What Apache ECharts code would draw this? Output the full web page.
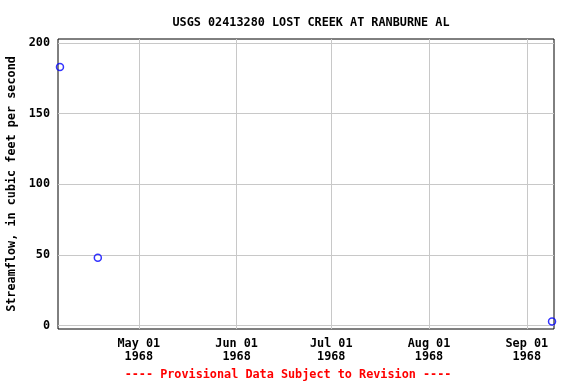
<!DOCTYPE html>
<html>
<head>
<meta charset="utf-8">
<script src="https://cdn.jsdelivr.net/npm/echarts@6/dist/echarts.min.js"></script>
<style>html,body{margin:0;padding:0;background:#fff}#c{width:576px;height:384px}</style>
</head>
<body>
<div id="c"></div>
<script>
var title = 'USGS 02413280 LOST CREEK AT RANBURNE AL';
var yAxisName = 'Streamflow, in cubic feet per second';
var footer = '---- Provisional Data Subject to Revision ----';
var dates = [[1968, 4, 6], [1968, 4, 18], [1968, 9, 9]];
var flows = [183, 48, 3];
var xTickDates = [[1968, 5, 1], [1968, 6, 1], [1968, 7, 1], [1968, 8, 1], [1968, 9, 1]];
var yTicks = [0, 50, 100, 150, 200];
var xRange = [[1968, 4, 5, 9], [1968, 9, 9, 15]];
var yRange = [-2.34, 202.8];

function ts(d) { return new Date(d[0], d[1] - 1, d[2], d[3] || 0).getTime(); }
var months = ['Jan','Feb','Mar','Apr','May','Jun','Jul','Aug','Sep','Oct','Nov','Dec'];
var font = '"DejaVu Sans Mono", monospace';
var xTicks = xTickDates.map(ts);

var chart = echarts.init(document.getElementById('c'));
chart.setOption({
  animation: false,
  title: {
    text: title, left: 306, top: 12, textAlign: 'center',
    textStyle: { fontFamily: font, fontSize: 11.8, fontWeight: 'bold', color: '#000' }
  },
  grid: { left: 58, right: 22, top: 39, bottom: 55, outerBoundsMode: 'none', containLabel: false, show: true, borderColor: '#000', borderWidth: 1, backgroundColor: 'transparent' },
  xAxis: {
    type: 'value', min: ts(xRange[0]), max: ts(xRange[1]),
    axisLine: { show: false }, axisTick: { show: false, customValues: xTicks },
    axisLabel: {
      customValues: xTicks, margin: 8, lineHeight: 13,
      fontFamily: font, fontSize: 11.8, fontWeight: 'bold', color: '#000',
      formatter: function (v) {
        var d = new Date(v);
        return months[d.getMonth()] + ' ' + String(d.getDate()).padStart(2, '0') + '\n' + d.getFullYear();
      }
    },
    splitLine: { show: true, lineStyle: { color: '#c8c8c8', width: 1 } }
  },
  yAxis: {
    type: 'value', min: yRange[0], max: yRange[1],
    name: yAxisName, nameLocation: 'middle', nameGap: 39, nameRotate: 90,
    nameTextStyle: { fontFamily: font, fontSize: 11.8, fontWeight: 'bold', color: '#000' },
    axisLine: { show: false }, axisTick: { show: false, customValues: yTicks },
    axisLabel: { customValues: yTicks, margin: 8, fontFamily: font, fontSize: 11.8, fontWeight: 'bold', color: '#000' },
    splitLine: { show: true, lineStyle: { color: '#c8c8c8', width: 1 } }
  },
  graphic: [{
    type: 'text', left: 'center', top: 369,
    style: { text: footer, fill: '#f00', font: 'bold 11.8px ' + font }
  }],
  series: [{
    type: 'scatter', symbol: 'circle', symbolSize: 7,
    itemStyle: { color: 'transparent', borderColor: '#0000ff', borderWidth: 1.5 },
    data: dates.map(function (d, i) { return [ts(d), flows[i]]; }),
    clip: false
  }]
});
</script>
</body>
</html>
